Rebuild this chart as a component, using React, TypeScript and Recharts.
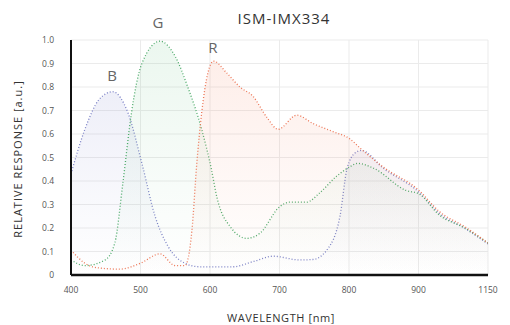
import { ComposedChart, Area, XAxis, YAxis, CartesianGrid } from 'recharts'

// x axis tick labels (last step jumps from 900 to 1150)
const xTickLabels = ['400', '500', '600', '700', '800', '900', '1150']
const yTicks = [0, 0.1, 0.2, 0.3, 0.4, 0.5, 0.6, 0.7, 0.8, 0.9, 1.0]

const blueNm = [400, 420, 440, 460, 482, 502, 521, 540, 564, 585, 633, 665, 691, 729, 748, 768, 787, 797, 809, 818, 849, 902, 975, 1067, 1150]
const blueVal = [0.43, 0.62, 0.745, 0.78, 0.69, 0.475, 0.25, 0.12, 0.05, 0.035, 0.035, 0.06, 0.08, 0.064, 0.066, 0.106, 0.25, 0.45, 0.52, 0.53, 0.455, 0.352, 0.262, 0.198, 0.132]

const greenNm = [400, 420, 449, 463, 475, 487, 502, 528, 550, 568, 588, 602, 610, 629, 653, 672, 700, 715, 739, 758, 782, 801, 812, 835, 882, 902, 975, 1067, 1150]
const greenVal = [0.064, 0.04, 0.064, 0.136, 0.4, 0.69, 0.9, 0.995, 0.93, 0.8, 0.62, 0.45, 0.33, 0.206, 0.156, 0.178, 0.29, 0.31, 0.31, 0.35, 0.42, 0.46, 0.475, 0.455, 0.36, 0.345, 0.255, 0.2, 0.136]

const redNm = [400, 420, 440, 470, 500, 528, 550, 564, 574, 581, 588, 597, 605, 624, 643, 662, 682, 698, 725, 748, 777, 801, 816, 849, 902, 975, 1067, 1150]
const redVal = [0.106, 0.05, 0.03, 0.025, 0.05, 0.09, 0.04, 0.04, 0.19, 0.475, 0.69, 0.86, 0.91, 0.86, 0.8, 0.76, 0.67, 0.62, 0.68, 0.645, 0.61, 0.58, 0.54, 0.46, 0.36, 0.27, 0.205, 0.136]

// piecewise axis: 100nm per step up to 900, then 900-1150 as one step
const toAxis = (nm: number) => (nm <= 900 ? (nm - 400) / 100 : 5 + (nm - 900) / 250)

const series = (nm: number[], val: number[]) => nm.map((w, i) => ({ x: toAxis(w), v: val[i] }))

const blueData = series(blueNm, blueVal)
const greenData = series(greenNm, greenVal)
const redData = series(redNm, redVal)

const font = '"Open Sans", Lato, sans-serif'

export default function App() {
  const tickStyle = { fontSize: 8.5, fill: '#555', fontFamily: font }
  return (
    <div style={{ position: 'absolute', left: 0, top: 0, background: '#fff' }}>
      <ComposedChart
        width={510}
        height={325}
        margin={{ top: 40, right: 22, left: 0, bottom: 20 }}
      >
        <defs>
          <linearGradient id='gBlue' x1='0' y1='0' x2='0' y2='1'>
            <stop offset='0%' stopColor='#8a8fd0' stopOpacity={0.24} />
            <stop offset='100%' stopColor='#8a8fd0' stopOpacity={0} />
          </linearGradient>
          <linearGradient id='gGreen' x1='0' y1='0' x2='0' y2='1'>
            <stop offset='0%' stopColor='#5cbc7a' stopOpacity={0.2} />
            <stop offset='100%' stopColor='#5cbc7a' stopOpacity={0} />
          </linearGradient>
          <linearGradient id='gRed' x1='0' y1='0' x2='0' y2='1'>
            <stop offset='0%' stopColor='#f58a6a' stopOpacity={0.24} />
            <stop offset='100%' stopColor='#f58a6a' stopOpacity={0} />
          </linearGradient>
        </defs>
        <CartesianGrid stroke='#ebebeb' strokeWidth={1} />
        <XAxis
          type='number'
          dataKey='x'
          domain={[0, 6]}
          ticks={[0, 1, 2, 3, 4, 5, 6]}
          tickFormatter={(v: number) => xTickLabels[v]}
          allowDataOverflow
          axisLine={{ stroke: '#111', strokeWidth: 2.5 }}
          tickLine={false}
          tickSize={0}
          tickMargin={12}
          tick={tickStyle}
        />
        <YAxis
          type='number'
          domain={[0, 1]}
          ticks={yTicks}
          tickFormatter={(v: number) => (v === 0 ? '0' : v.toFixed(1))}
          width={71}
          axisLine={{ stroke: '#111', strokeWidth: 2 }}
          tickLine={false}
          tickSize={0}
          tickMargin={17}
          tick={tickStyle}
        />
        <Area
          data={blueData}
          dataKey='v'
          type='monotone'
          stroke='#7b80c6'
          strokeWidth={1.3}
          strokeDasharray='1 2'
          fill='url(#gBlue)'
          isAnimationActive={false}
        />
        <Area
          data={greenData}
          dataKey='v'
          type='monotone'
          stroke='#4caa69'
          strokeWidth={1.3}
          strokeDasharray='1 2'
          fill='url(#gGreen)'
          isAnimationActive={false}
        />
        <Area
          data={redData}
          dataKey='v'
          type='monotone'
          stroke='#ec7656'
          strokeWidth={1.3}
          strokeDasharray='1 2'
          fill='url(#gRed)'
          isAnimationActive={false}
        />
        <text x={284} y={24} textAnchor='middle' fontSize={15} fill='#333' fontFamily={font} letterSpacing={1}>
          ISM-IMX334
        </text>
        <text x={112} y={81} textAnchor='middle' fontSize={15} fill='#666' fontFamily={font}>
          B
        </text>
        <text x={158} y={28} textAnchor='middle' fontSize={15} fill='#666' fontFamily={font}>
          G
        </text>
        <text x={213} y={53} textAnchor='middle' fontSize={15} fill='#666' fontFamily={font}>
          R
        </text>
        <text
          x={22}
          y={159}
          textAnchor='middle'
          fontSize={11}
          fill='#333'
          fontFamily={font}
          letterSpacing={1}
          transform='rotate(-90 22 159)'
        >
          RELATIVE RESPONSE [a.u.]
        </text>
        <text x={281} y={322} textAnchor='middle' fontSize={11} fill='#333' fontFamily={font} letterSpacing={0.6}>
          WAVELENGTH [nm]
        </text>
      </ComposedChart>
    </div>
  )
}
